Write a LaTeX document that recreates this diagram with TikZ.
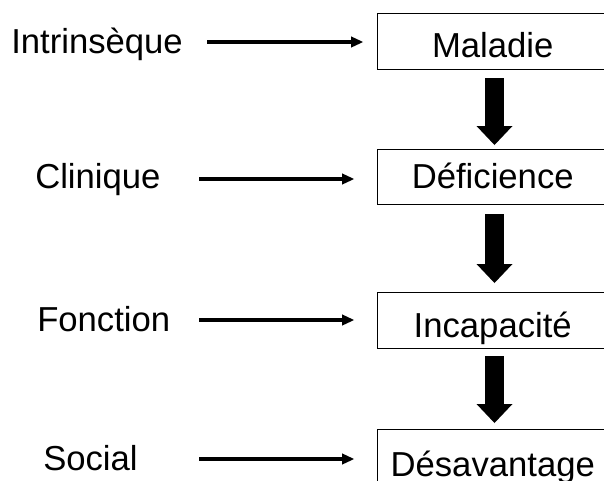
\documentclass[tikz,border=0pt]{standalone}
\usepackage{fontspec}
\setmainfont{Liberation Sans}
\usetikzlibrary{arrows.meta,calc}
\begin{document}
\begin{tikzpicture}[x=0.75pt,y=-0.75pt,
  lab/.style={anchor=base west,inner sep=0pt,font=\fontsize{26}{31}\selectfont},
  box/.style={draw,line width=1.1pt,rectangle,anchor=north west,minimum width=172.5pt,
    minimum height=42pt,inner sep=0pt,text depth=0pt,font=\fontsize{26}{31}\selectfont},
  thinarrow/.style={line width=2.7pt,-{Triangle[length=9pt,width=8.5pt,line width=0pt]}},
  fatarrow/.style={line width=14.25pt,-{Triangle[length=14.25pt,width=27pt,line width=0pt]}}]
\useasboundingbox (0,0) rectangle (604,480);
\clip (0,0) rectangle (604,480);

% left labels
\node[lab] (l1) at (11,53) {Intrinsèque};
\node[lab] (l2) at (35,188) {Clinique};
\node[lab] (l3) at (37,331) {Fonction};
\node[lab] (l4) at (43,470) {Social};

% boxes
\node[box,text height=23.9pt] (mal) at (377,13) {Maladie};
\node[box,minimum height=41.25pt,text height=17.1pt] (def) at (377,149) {Déficience};
\node[box,text height=25.35pt] (inc) at (377,292) {Incapacité};
\node[box,text height=27.5pt] (des) at (377,429) {Désavantage};

% thin arrows
\coordinate (s1) at (207,42);
\coordinate (s2) at (199,179);
\coordinate (s3) at (199,320);
\coordinate (s4) at (199,459);
\draw[thinarrow,shorten >=10.5pt] (s1) -- (s1 -| mal.west);
\draw[thinarrow,shorten >=17.25pt] (s2) -- (s2 -| def.west);
\draw[thinarrow,shorten >=17.25pt] (s3) -- (s3 -| inc.west);
\draw[thinarrow,shorten >=17.25pt] (s4) -- (s4 -| des.west);

% thick arrows
\draw[fatarrow] ($(mal.south west)+(117.5,8)$) -- ($(def.north west)+(117.5,-4)$);
\draw[fatarrow] ($(def.south west)+(117.5,9)$) -- ($(inc.north west)+(117.5,-9)$);
\draw[fatarrow] ($(inc.south west)+(117.5,7)$) -- ($(des.north west)+(117.5,-6)$);
\end{tikzpicture}
\end{document}
